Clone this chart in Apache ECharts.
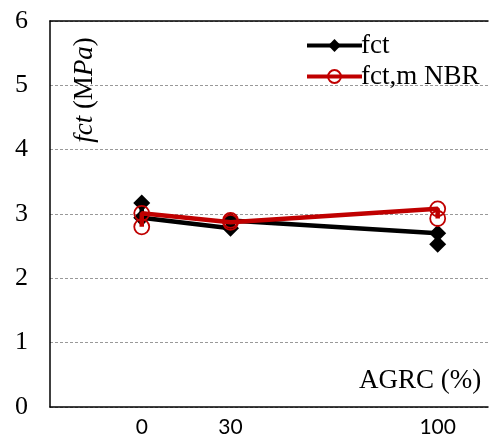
<!DOCTYPE html>
<html>
<head>
<meta charset="utf-8">
<script src="https://cdn.jsdelivr.net/npm/echarts@6/dist/echarts.min.js"></script>
<style>
  html, body { margin: 0; padding: 0; background: #fff; }
  #board { width: 491px; height: 440px; }
</style>
</head>
<body>
<div id="board"></div>
<script>
// AGRC (%) values, two specimens per level, in plotting order
var agrc = [0, 0, 30, 30, 100, 100];
var fct = [3.17, 2.94, 2.78, 2.90, 2.70, 2.53];
var fctmNBR = [2.80, 3.01, 2.87, 2.90, 3.08, 2.93];
var xTicks = [0, 30, 100];

function pairs(xs, ys) {
  return xs.map(function (x, i) { return [x, ys[i]]; });
}

var serif = "Liberation Serif";
var red = "#C00000";

var chart = echarts.init(document.getElementById("board"));
chart.setOption({
  animation: false,
  grid: { left: 50, top: 21, right: 1, bottom: 33 },
  legend: {
    orient: "vertical",
    left: 300, top: 27,
    itemWidth: 55, itemHeight: 16, itemGap: 4,
    textStyle: { fontFamily: serif, fontSize: 27, color: "#000", padding: [0, 0, 0, -6] },
    data: [
      { name: "fct", lineStyle: { width: 4 } },
      { name: "fct,m NBR", lineStyle: { width: 4 } }
    ]
  },
  xAxis: [
    {
      type: "value", min: -31, max: 117, interval: 1,
      axisLine: { onZero: false, lineStyle: { color: "#000", width: 1.5 } },
      axisTick: { show: false },
      splitLine: { show: false },
      axisLabel: {
        margin: 10, fontFamily: "Lato", fontSize: 21, color: "#000",
        formatter: function (v) { return xTicks.indexOf(v) >= 0 ? String(v) : ""; }
      }
    },
    {
      type: "value", position: "top", min: -31, max: 117,
      axisLine: { onZero: false, lineStyle: { color: "#000", width: 1.5 } },
      axisTick: { show: false }, axisLabel: { show: false }, splitLine: { show: false }
    }
  ],
  yAxis: {
    type: "value", min: 0, max: 6, interval: 1,
    axisLine: { show: true, onZero: false, lineStyle: { color: "#000", width: 1.5 } },
    axisTick: { show: false },
    splitLine: { lineStyle: { type: [3, 2], color: "#999", width: 1 } },
    axisLabel: { margin: 22, fontFamily: serif, fontSize: 26, color: "#000" }
  },
  graphic: [
    {
      type: "text", x: 85, y: 90, rotation: Math.PI / 2, z: 10,
      style: {
        text: "{i|fct} (M{i|Pa})",
        font: "27px " + serif, fill: "#000",
        align: "center", verticalAlign: "middle",
        rich: { i: { fontStyle: "italic", fontFamily: serif, fontSize: 27 } }
      }
    },
    {
      type: "text", left: 359, top: 367, z: 10,
      style: { text: "AGRC (%)", font: "27px " + serif, fill: "#000" }
    }
  ],
  series: [
    {
      name: "fct", type: "line",
      data: pairs(agrc, fct),
      symbol: "diamond", symbolSize: 17,
      itemStyle: { color: "#000" },
      lineStyle: { color: "#000", width: 4.5 },
      z: 3
    },
    {
      name: "fct,m NBR", type: "line",
      data: pairs(agrc, fctmNBR),
      symbol: "circle", symbolSize: 15,
      itemStyle: { color: "rgba(255,255,255,0)", borderColor: red, borderWidth: 1.8 },
      lineStyle: { color: red, width: 4.5 },
      z: 4
    }
  ]
});
</script>
</body>
</html>
